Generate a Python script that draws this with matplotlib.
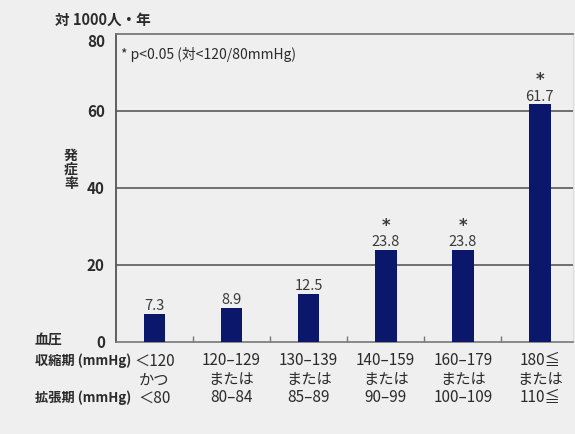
import matplotlib.pyplot as plt
import matplotlib.transforms as mtransforms
import numpy as np

plt.rcParams['font.family'] = ['Noto Sans CJK JP', 'DejaVu Sans']

# データ
values = [7.3, 8.9, 12.5, 23.8, 23.8, 61.7]
significant = [False, False, False, True, True, True]
systolic = ['＜120', '120–129', '130–139', '140–159', '160–179', '180≦']
joiner = ['かつ', 'または', 'または', 'または', 'または', 'または']
diastolic = ['＜80', '80–84', '85–89', '90–99', '100–109', '110≦']
yticks = [0, 20, 40, 60, 80]

bg = '#efefef'
txt = '#2b2b2b'
navy = '#0a176a'

fig = plt.figure(figsize=(5.75, 4.35), dpi=100, facecolor=bg)
ax = fig.add_axes([0.2017, 0.2115, 0.7948, 0.708])
ax.set_facecolor(bg)

x = np.arange(len(values))
ax.bar(x, values, width=0.28, color=navy, zorder=3)

for xi, v, s in zip(x, values, significant):
    ax.text(xi, v + 0.5, f'{v}', ha='center', va='bottom', fontsize=10.5, color='#3a3a3a')
    if s:
        ax.text(xi, v + 4.3, '*', ha='center', va='bottom', fontsize=12,
                fontweight='bold', color='#3a3a3a', family='DejaVu Sans')

ax.set_xlim(-0.5, 5.43)
ax.set_ylim(0, 80)

# 横線
for g in [20, 40, 60]:
    ax.axhline(g, color='#4d4d4d', lw=1.1, zorder=1)

ax.spines['left'].set_color('#555555')
ax.spines['left'].set_linewidth(1.3)
ax.spines['top'].set_color('#777777')
ax.spines['top'].set_linewidth(1.3)
ax.spines['bottom'].set_color('#777777')
ax.spines['bottom'].set_linewidth(1.2)
ax.spines['right'].set_color('#dddddd')
ax.spines['right'].set_linewidth(0.8)

ax.set_yticks(yticks)
ax.set_yticklabels([str(t) for t in yticks], fontsize=11, fontweight='bold', color=txt)
ax.tick_params(axis='y', length=0, pad=8)
for lab in ax.get_yticklabels():
    lab.set_verticalalignment('center')
# 80 のラベルは少し下
top_lab = ax.get_yticklabels()[-1]
top_lab.set_transform(top_lab.get_transform() +
                      mtransforms.ScaledTranslation(0, -5 / 72, fig.dpi_scale_trans))

ax.set_xticks(x[:-1] + 0.5)
ax.set_xticklabels([])
ax.tick_params(axis='x', direction='in', length=4, color='#777777', width=1)

# 凡例テキスト
ax.text(0.012, 0.96, '* p<0.05 (対<120/80mmHg)', transform=ax.transAxes,
        fontsize=10, color=txt, va='top', ha='left')

# 軸ラベル類
fig.text(55 / 575, 1 - 20 / 435, '対 1000人・年', fontsize=10.5, fontweight='bold',
         color=txt, va='center', ha='left')
fig.text(71 / 575, 1 - 170 / 435, '発\n症\n率', fontsize=10, fontweight='bold',
         color=txt, va='center', ha='center', linespacing=1.0)
fig.text(35 / 575, 1 - 341 / 435, '血圧', fontsize=10, fontweight='bold',
         color=txt, va='center', ha='left')
fig.text(35 / 575, 1 - 361 / 435, '収縮期 (mmHg)', fontsize=9.5, fontweight='bold',
         color=txt, va='center', ha='left')
fig.text(35 / 575, 1 - 398 / 435, '拡張期 (mmHg)', fontsize=9.5, fontweight='bold',
         color=txt, va='center', ha='left')

# カテゴリラベル
for xi, a, b, c in zip(x, systolic, joiner, diastolic):
    for lab, dy in [(a, -18), (b, -37), (c, -55)]:
        ax.annotate(lab, (xi, 0), xycoords=('data', 'axes fraction'), xytext=(0, dy),
                    textcoords='offset pixels', ha='center', va='center',
                    fontsize=11, color=txt)

fig.savefig('out.png', dpi=100, facecolor=bg)
